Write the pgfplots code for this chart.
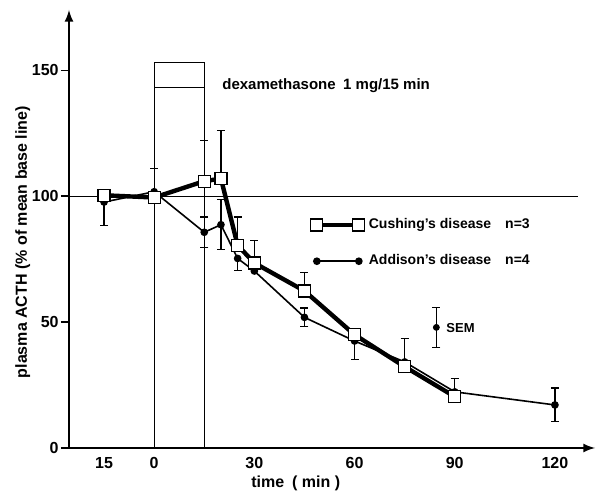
\documentclass[border=0pt]{standalone}
\usepackage{fontspec}
\setmainfont{Liberation Sans}
\usepackage{pgfplots}
\pgfplotsset{compat=1.18}

\pgfplotstableread{
x y
-15 100.4
0 99.5
15 106
20 107
25 80.5
30 73.5
45 62.4
60 45
75 32.3
90 20.4
}\cushing
\pgfplotstableread{
x y
-15 97.7
0 101.8
15 85.7
20 88.7
25 75.3
30 70.3
45 51.9
60 42.5
75 34.2
90 22.3
120 17.1
}\addison

\begin{document}
\begin{tikzpicture}
\begin{axis}[
  scale only axis, width=263pt, height=219pt,
  xmin=-25.5, xmax=132, ymin=0, ymax=174,
  axis lines=left,
  axis line style={line width=1pt, -latex},
  xtick={-15,0,30,60,90,120}, xticklabels={15,0,30,60,90,120},
  ytick={0,50,100,150},
  x tick style={draw=none},
  y tick style={line width=0.8pt, black},
  tick align=outside, major tick length=4pt,
  ticklabel style={font=\bfseries\fontsize{8}{9}\selectfont},
  xticklabel style={yshift=3pt},
  yticklabel style={inner xsep=1pt},
  /pgf/number format/assume math mode=true,
  xlabel={time\enspace( min )},
  ylabel={plasma ACTH (\% of mean base line)},
  label style={font=\bfseries\fontsize{8}{9}\selectfont},
  xlabel style={at={(axis description cs:0.431,-0.08)}, anchor=center},
  ylabel style={at={(axis description cs:-0.088,0.47)}, anchor=center},
  clip=false,
  reverse legend,
  legend style={draw=none, fill=none, at={(axis cs:45,94.5)}, anchor=north west,
    font=\bfseries\fontsize{7}{9}\selectfont, row sep=7.5pt},
  legend image code/.code={\draw[mark repeat=2,mark phase=1,#1]
    plot coordinates {(0pt,0pt) (10.5pt,0pt) (21pt,0pt)};},
  error bars/error bar style={line width=0.6pt, black},
  error bars/error mark options={rotate=90, mark size=2pt, line width=0.6pt, black},
]
\coordinate (ll) at (rel axis cs:0,0);
% infusion box and reference lines
\draw[line width=0.6pt] (axis cs:0,143.3) rectangle (axis cs:15,153.2);
\draw[line width=0.6pt] (axis cs:0,0) -- (axis cs:0,143.3);
\draw[line width=0.6pt] (axis cs:15,0) -- (axis cs:15,143.3);
\draw[line width=0.6pt] (axis cs:-25.5,100) -- (axis cs:127,100);
\node[anchor=west, inner sep=0pt, font=\bfseries\fontsize{7.5}{9}\selectfont] at (axis cs:20.3,143.8)
  {dexamethasone\enspace 1 mg/15 min};
\node[anchor=west, inner sep=0pt, font=\bfseries\fontsize{6.5}{8}\selectfont] at (axis cs:87.4,47.8) {SEM};

% error bars (upper only)
\addplot[draw=none, mark=none, forget plot, error bars/.cd, y dir=plus, y explicit]
  coordinates {(0,101.8) +- (0,9.3) (15,106) +- (0,16) (20,107) +- (0,19)
  (25,80.5) +- (0,11.3) (30,73.5) +- (0,8.8) (45,62.4) +- (0,7.2)
  (75,34.2) +- (0,9.4) (90,21.5) +- (0,6)};
% error bars (lower only)
\addplot[draw=none, mark=none, forget plot, error bars/.cd, y dir=minus, y explicit]
  coordinates {(-15,97.7) +- (0,9.2) (25,75.3) +- (0,4.7) (60,42.5) +- (0,7.3)};
% error bars (both)
\addplot[draw=none, mark=none, forget plot, error bars/.cd, y dir=both, y explicit]
  coordinates {(15,85.7) +- (0,6.1) (20,88.7) +- (0,10) (45,51.9) +- (0,3.7)
  (120,17.1) +- (0,6.7)};
% SEM sample
\addplot[black, only marks, mark=*, mark size=1.5pt, forget plot, error bars/.cd, y dir=both, y explicit]
  coordinates {(84.5,47.9) +- (0,7.9)};

\addplot[black, line width=0.8pt, mark=*, mark size=1.5pt] table {\addison};
\addlegendentry{Addison's disease\quad n=4}
\addplot[black, line width=2.2pt, mark=square*, mark size=3pt,
  mark options={fill=white, draw=black, line width=0.6pt}] table {\cushing};
\addlegendentry{Cushing's disease\quad n=3}
\end{axis}
\path (ll) +(-34.5pt,-22pt) (ll) +(266pt,224pt);
\end{tikzpicture}
\end{document}
